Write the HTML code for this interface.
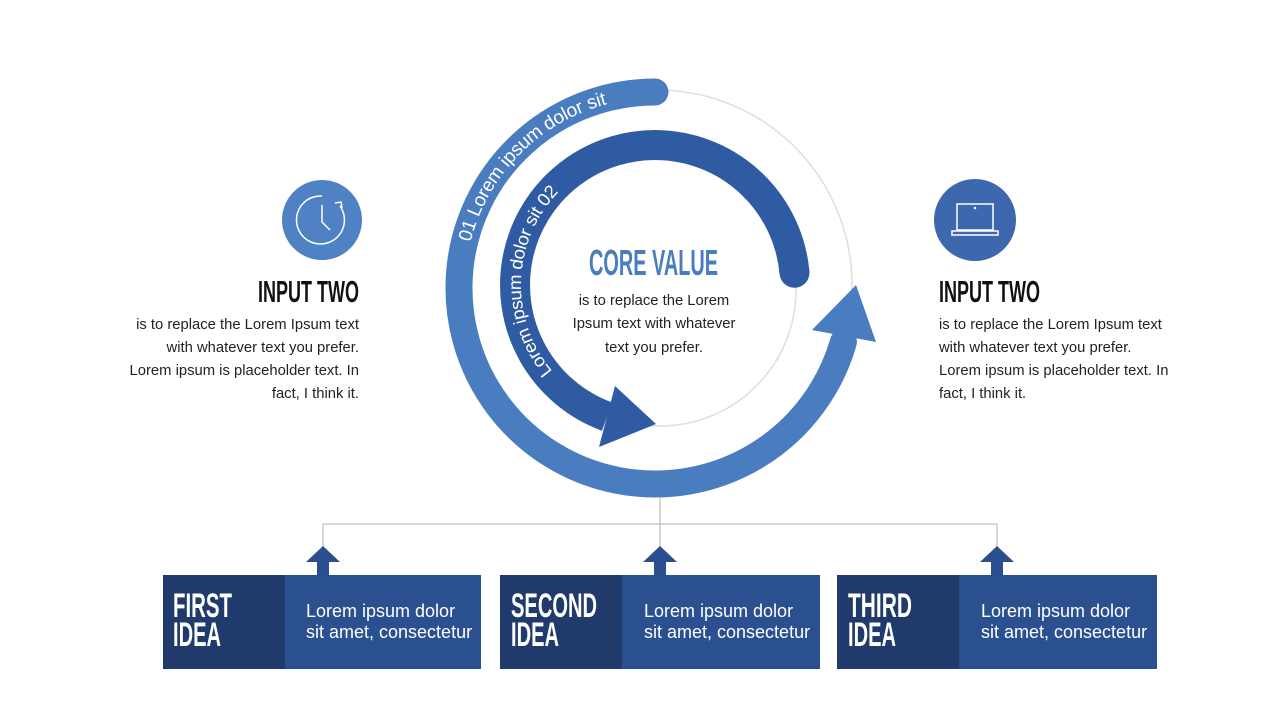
<!DOCTYPE html>
<html><head><meta charset="utf-8"><style>
html,body{margin:0;padding:0;background:#fff;}
svg{display:block;}
.b{font-family:"Liberation Sans",sans-serif;font-size:14.8px;fill:#222;}
.h{font-family:"Liberation Sans",sans-serif;font-weight:bold;}
.w{font-family:"Liberation Sans",sans-serif;font-size:18px;fill:#fff;}
</style></head><body>
<svg width="1280" height="720" viewBox="0 0 1280 720" xmlns="http://www.w3.org/2000/svg">
<circle cx="657" cy="285" r="195" fill="none" stroke="#dedede" stroke-width="1.5"/>
<circle cx="660" cy="290" r="136" fill="none" stroke="#dedede" stroke-width="1.5"/>
<path d="M655 92 A196 196 0 1 0 843.4 342" fill="none" stroke="#4a7cc0" stroke-width="27" stroke-linecap="round"/>
<polygon points="812,330 856,285 876,342" fill="#4a7cc0"/>
<path d="M794.5 272.8 A140 140 0 1 0 607.1 416.6" fill="none" stroke="#2f5ba3" stroke-width="30"/>
<circle cx="794.5" cy="272.8" r="15" fill="#2f5ba3"/>
<polygon points="615,386 656,424 599,447" fill="#2f5ba3"/>
<defs>
<path id="po" d="M464.8 240.6 A196 196 0 0 1 655 92"/>
<path id="pi" d="M547.8 375 A140 140 0 0 1 565 177.8"/>
</defs>
<text font-family="Liberation Sans,sans-serif" font-size="19" fill="#fff" dominant-baseline="central"><textPath href="#po" textLength="210" lengthAdjust="spacingAndGlyphs">01 Lorem ipsum dolor sit</textPath></text>
<text font-family="Liberation Sans,sans-serif" font-size="18" fill="#fff" dominant-baseline="central"><textPath href="#pi" textLength="205" lengthAdjust="spacingAndGlyphs">Lorem ipsum dolor sit  02</textPath></text>
<text class="h" x="589" y="275" font-size="36" fill="#4a7cc0" textLength="129" lengthAdjust="spacingAndGlyphs">CORE VALUE</text>
<text class="b" x="654" y="305" text-anchor="middle">is to replace the Lorem</text>
<text class="b" x="654" y="328" text-anchor="middle">Ipsum text with whatever</text>
<text class="b" x="654" y="352" text-anchor="middle">text you prefer.</text>
<circle cx="322" cy="220" r="40" fill="#4f82c4"/>
<g fill="none" stroke="#fff" stroke-width="1.5">
<path d="M340 206 A24 24 0 1 1 322 196"/>
<path d="M322 205 V222 L330 230"/>
<path d="M335 203 L341 202 L342 208"/>
</g>
<text class="h" x="258" y="302" font-size="31" fill="#111" textLength="101" lengthAdjust="spacingAndGlyphs">INPUT TWO</text>
<text class="b" x="359" y="329" text-anchor="end">is to replace the Lorem Ipsum text</text>
<text class="b" x="359" y="352" text-anchor="end">with whatever text you prefer.</text>
<text class="b" x="359" y="375" text-anchor="end">Lorem ipsum is placeholder text. In</text>
<text class="b" x="359" y="398" text-anchor="end">fact, I think it.</text>
<circle cx="975" cy="220" r="41" fill="#3d68ad"/>
<g fill="none" stroke="#fff" stroke-width="1.5">
<rect x="957" y="204" width="36" height="26"/>
<rect x="952" y="231" width="46" height="4"/>
</g>
<circle cx="975" cy="208" r="1.3" fill="#fff"/>
<text class="h" x="939" y="302" font-size="31" fill="#111" textLength="101" lengthAdjust="spacingAndGlyphs">INPUT TWO</text>
<text class="b" x="939" y="329">is to replace the Lorem Ipsum text</text>
<text class="b" x="939" y="352">with whatever text you prefer.</text>
<text class="b" x="939" y="375">Lorem ipsum is placeholder text. In</text>
<text class="b" x="939" y="398">fact, I think it.</text>
<g stroke="#c8c8c8" stroke-width="1.5" fill="none">
<path d="M660 498 V524 M323 524 H997 M323 524 V548 M660 524 V548 M997 524 V548"/>
</g>
<g fill="#2a4f8f">
<polygon points="306,562 323,546 340,562"/><rect x="317" y="561" width="12" height="15"/>
<polygon points="643,562 660,546 677,562"/><rect x="654" y="561" width="12" height="15"/>
<polygon points="980,562 997,546 1014,562"/><rect x="991" y="561" width="12" height="15"/>
</g>
<rect x="163" y="575" width="318" height="94" fill="#2a5090"/>
<rect x="163" y="575" width="122" height="94" fill="#1f3a6b"/>
<rect x="500" y="575" width="320" height="94" fill="#2a5090"/>
<rect x="500" y="575" width="122" height="94" fill="#1f3a6b"/>
<rect x="837" y="575" width="320" height="94" fill="#2a5090"/>
<rect x="837" y="575" width="122" height="94" fill="#1f3a6b"/>
<g class="h" font-size="34" fill="#fff">
<text x="173" y="617" textLength="59" lengthAdjust="spacingAndGlyphs">FIRST</text>
<text x="173" y="646" textLength="48" lengthAdjust="spacingAndGlyphs">IDEA</text>
<text x="511" y="617" textLength="86" lengthAdjust="spacingAndGlyphs">SECOND</text>
<text x="511" y="646" textLength="48" lengthAdjust="spacingAndGlyphs">IDEA</text>
<text x="848" y="617" textLength="64" lengthAdjust="spacingAndGlyphs">THIRD</text>
<text x="848" y="646" textLength="48" lengthAdjust="spacingAndGlyphs">IDEA</text>
</g>
<text class="w" x="306" y="617">Lorem ipsum dolor</text>
<text class="w" x="306" y="638">sit amet, consectetur</text>
<text class="w" x="644" y="617">Lorem ipsum dolor</text>
<text class="w" x="644" y="638">sit amet, consectetur</text>
<text class="w" x="981" y="617">Lorem ipsum dolor</text>
<text class="w" x="981" y="638">sit amet, consectetur</text>
</svg>
</body></html>
